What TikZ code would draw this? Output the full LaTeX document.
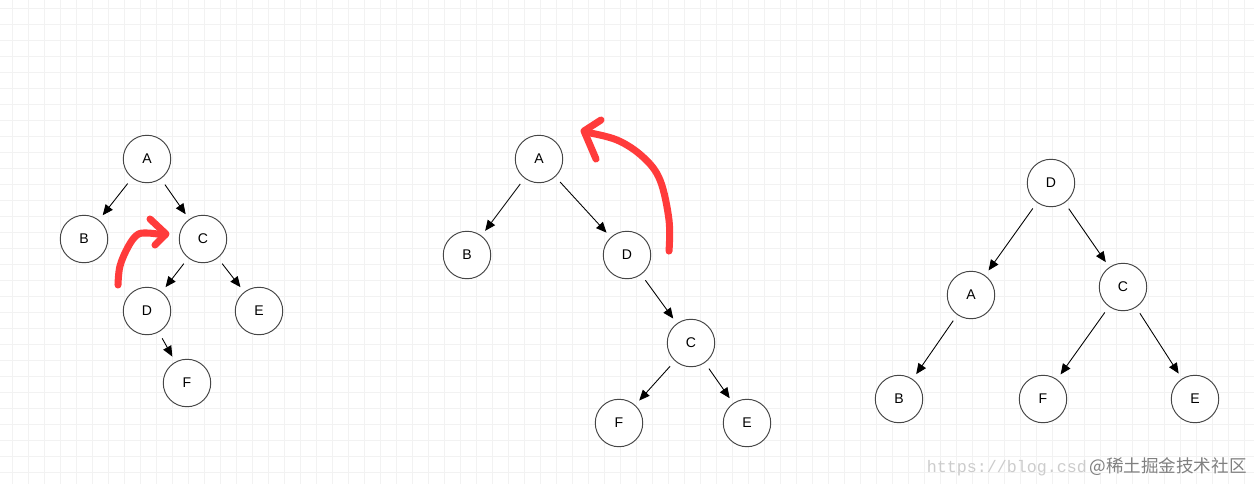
\documentclass[tikz,border=0pt]{standalone}
\usepackage{fontspec}
\setmainfont{Liberation Sans}
\newfontfamily\cjkfont{Noto Sans CJK SC}
\newfontfamily\urlfont{Liberation Mono}
\usepackage{tikz}
\usetikzlibrary{arrows.meta,positioning}
\definecolor{GridGray}{RGB}{242,242,242}
\definecolor{RingGray}{RGB}{70,70,70}
\definecolor{MarkRed}{RGB}{255,59,59}
\tikzset{
  gridline/.style={draw=GridGray,line width=0.45pt},
  tnode/.style={circle,draw=RingGray,fill=white,line width=0.55pt,
    minimum size=0.95cm,inner sep=0pt,font=\fontsize{8}{9}\selectfont},
  edge/.style={-{Triangle[length=0.21cm,width=0.18cm]},line width=0.5pt,black,
    shorten <=0.14cm,shorten >=0.12cm},
  redmark/.style={MarkRed,line width=4pt,line cap=round,line join=round}
}

\begin{document}
\begin{tikzpicture}[x=0.02cm,y=-0.02cm]
  \useasboundingbox (0,0) rectangle (1254,484);
  \fill[white] (0,0) rectangle (1254,484);
  % background grid
  \foreach \x in {12,28,...,1252}{
    \draw[gridline] (\x,0) -- (\x,484);
  }
  \foreach \y in {8,24,...,484}{
    \draw[gridline] (0,\y) -- (1254,\y);
  }

  % first tree
  \node[tnode] (a1) at (147,159) {A};
  \node[tnode] (b1) at (84,239) {B};
  \node[tnode] (c1) at (203,239) {C};
  \node[tnode] (d1) at (147,311) {D};
  \node[tnode] (e1) at (259,311) {E};
  \node[tnode] (f1) at (187,383) {F};
  \foreach \u/\v in {a1/b1,a1/c1,c1/d1,c1/e1,d1/f1}{
    \draw[edge] (\u) -- (\v);
  }

  % second tree
  \node[tnode] (a2) at (539,159) {A};
  \node[tnode] (b2) at (467,255) {B};
  \node[tnode] (d2) at (627,255) {D};
  \node[tnode] (c2) at (691,343) {C};
  \node[tnode] (f2) at (619,423) {F};
  \node[tnode] (e2) at (747,423) {E};
  \foreach \u/\v in {a2/b2,a2/d2,d2/c2,c2/f2,c2/e2}{
    \draw[edge] (\u) -- (\v);
  }

  % third tree
  \node[tnode] (d3) at (1051,183) {D};
  \node[tnode] (a3) at (971,295) {A};
  \node[tnode] (c3) at (1123,287) {C};
  \node[tnode] (b3) at (899,399) {B};
  \node[tnode] (f3) at (1043,399) {F};
  \node[tnode] (e3) at (1195,399) {E};
  \foreach \u/\v in {d3/a3,d3/c3,a3/b3,c3/f3,c3/e3}{
    \draw[edge] (\u) -- (\v);
  }

  % hand drawn rotation marks
  \draw[redmark] plot[smooth,tension=0.6] coordinates
    {(118,285) (120,266) (128,247) (137,235) (147,233) (165,235)};
  \draw[redmark] (150,219) -- (166,234) -- (155,245);
  \draw[redmark] plot[smooth,tension=0.6] coordinates
    {(669,251) (669,220) (660,180) (643,157) (617,140) (585,132)};
  \draw[redmark] (601,120) -- (584,131) -- (596,159);

  % watermark
  \node[anchor=base east,inner sep=0pt,text=black!50,font=\cjkfont\fontsize{10}{11}\selectfont]
    (mark) at (1247,472) {@稀土掘金技术社区};
  \node[anchor=base east,inner sep=0pt,text=black!20,font=\urlfont\fontsize{9.5}{10}\selectfont]
    (url) at ([xshift=-1pt]mark.base west) {https://blog.csd};
\end{tikzpicture}
\end{document}
